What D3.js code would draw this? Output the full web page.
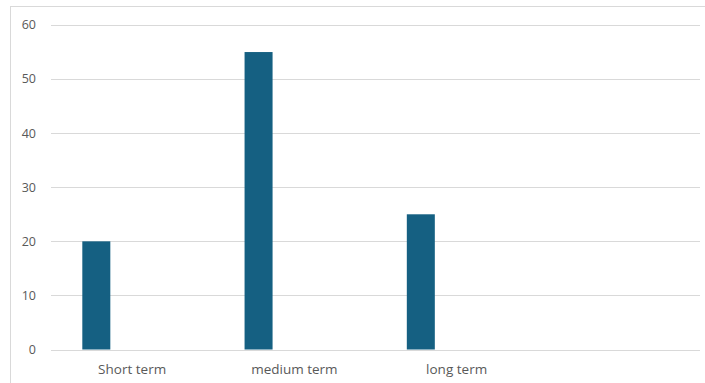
<!DOCTYPE html>
<html><head><meta charset="utf-8">
<script src="https://cdn.jsdelivr.net/npm/d3@7"></script>
<style>
html,body{margin:0;padding:0;background:#fff;overflow:hidden}
text{font-family:"Open Sans","Noto Sans",sans-serif;fill:#595959}
</style></head>
<body><div id="chart"></div>
<script>
const categories = ["Short term", "medium term", "long term", ""];
const values = [20, 55, 25, null];
const yTicks = [0, 10, 20, 30, 40, 50, 60];

const W = 705, H = 383;
const svg = d3.select("#chart").append("svg").attr("width", W).attr("height", H);

// chart frame
svg.append("rect").attr("x", 10.5).attr("y", 6.5).attr("width", W + 10).attr("height", H + 10)
  .attr("fill", "none").attr("stroke", "#d9d9d9").attr("stroke-width", 1);

const plot = {left: 51, right: 700, top: 25, bottom: 349.5};
const x = d3.scaleBand().domain(categories).range([plot.left, plot.right]).paddingInner(0).paddingOuter(0);
const y = d3.scaleLinear().domain([0, 60]).range([plot.bottom, plot.top]);

// gridlines
svg.append("g").selectAll("line").data(yTicks).join("line")
  .attr("x1", plot.left).attr("x2", plot.right)
  .attr("y1", d => Math.round(y(d)) + 0.5).attr("y2", d => Math.round(y(d)) + 0.5)
  .attr("stroke", "#d9d9d9").attr("stroke-width", 1);

// y tick labels
svg.append("g").selectAll("text").data(yTicks).join("text")
  .attr("x", 36).attr("y", d => y(d)).attr("dy", "0.35em")
  .attr("text-anchor", "end").attr("font-size", 12.5).text(d => d);

// bars
const barW = x.bandwidth() * 0.1726;
const barOff = x.bandwidth() * 0.193;
svg.append("g").selectAll("rect").data(categories.map((c, i) => ({c, v: values[i]})).filter(d => d.v != null))
  .join("rect")
  .attr("x", d => x(d.c) + barOff).attr("width", barW)
  .attr("y", d => y(d.v)).attr("height", d => y(0) - y(d.v))
  .attr("fill", "#156082");

// category labels
svg.append("g").selectAll("text").data(categories).join("text")
  .attr("x", d => x(d) + x.bandwidth() / 2).attr("y", 374)
  .attr("text-anchor", "middle").attr("font-size", 13.5).text(d => d);
</script></body></html>
